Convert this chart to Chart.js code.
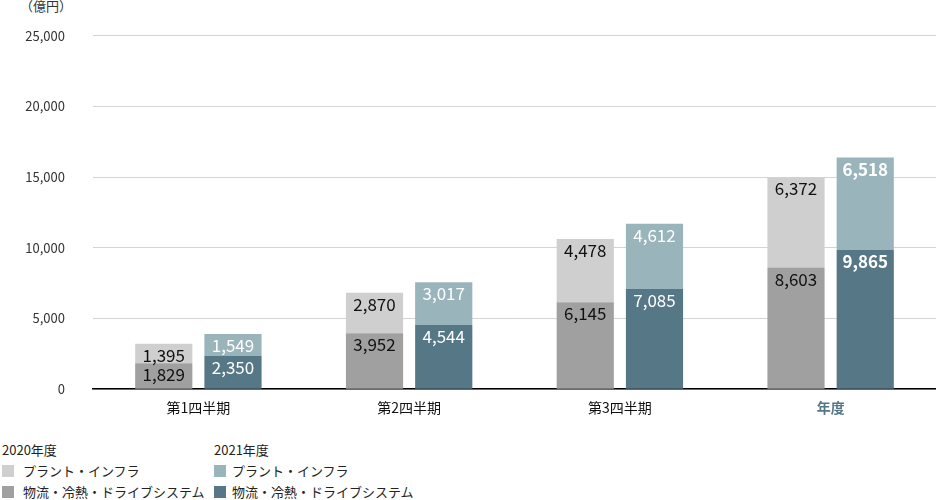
<!DOCTYPE html><html><head><meta charset="utf-8">
<script src="https://cdn.jsdelivr.net/npm/chart.js@4"></script>
<style>body{margin:0;width:936px;height:500px;font-family:"Noto Sans CJK JP";background:#fff;position:relative;overflow:hidden}
#w{position:absolute;left:0;top:0;width:936px;height:425px}
.lg{position:absolute;font-size:13px;color:#222}.sw{display:inline-block;width:12px;height:12px;margin-right:6px;vertical-align:-1px}
</style></head><body>
<div style="position:absolute;left:20px;top:-4px;font-size:13px;color:#333">（億円）</div>
<div id="w"><canvas id="c"></canvas></div>
<div class="lg" style="left:2px;top:440px">2020年度</div>
<div class="lg" style="left:2px;top:461px"><span class="sw" style="background:#cfcfcf"></span> プラント・インフラ</div>
<div class="lg" style="left:2px;top:482px"><span class="sw" style="background:#a0a0a0"></span> 物流・冷熱・ドライブシステム</div>
<div class="lg" style="left:214px;top:440px">2021年度</div>
<div class="lg" style="left:214px;top:461px"><span class="sw" style="background:#9ab4bc"></span>プラント・インフラ</div>
<div class="lg" style="left:214px;top:482px"><span class="sw" style="background:#557786"></span>物流・冷熱・ドライブシステム</div>
<script>
const categories=["第1四半期","第2四半期","第3四半期","年度"];
const logi2020=[1829,3952,6145,8603];
const plant2020=[1395,2870,4478,6372];
const logi2021=[2350,4544,7085,9865];
const plant2021=[1549,3017,4612,6518];
const yTicks=[0,5000,10000,15000,20000,25000];
const ds=(label,data,stack,bg,fc)=>({label,data,stack,backgroundColor:bg,fc,categoryPercentage:0.657,barPercentage:0.826});
const labels={id:'lbl',afterDatasetsDraw(ch){const x=ch.ctx;x.save();x.textAlign='center';x.textBaseline='top';
ch.data.datasets.forEach((d,i)=>{ch.getDatasetMeta(i).data.forEach((b,j)=>{const bold=j==3&&d.stack=='b';
x.font=(bold?'bold ':'')+'17px "Noto Sans CJK JP"';x.fillStyle=d.fc[j];x.fillText(d.data[j].toLocaleString('en-US'),b.x,b.y+3);});});x.restore();}};
new Chart(document.getElementById('c'),{type:'bar',data:{labels:categories,datasets:[
ds('2020 物流',logi2020,'a','#a0a0a0',['#111','#111','#111','#111']),
ds('2020 プラント',plant2020,'a','#cfcfcf',['#111','#111','#111','#111']),
ds('2021 物流',logi2021,'b','#557786',['#fff','#fff','#fff','#fff']),
ds('2021 プラント',plant2021,'b','#9ab4bc',['#fff','#fff','#fff','#fff'])]},
options:{responsive:true,maintainAspectRatio:false,animation:false,layout:{padding:{top:28,right:0,left:0,bottom:0}},
plugins:{legend:{display:false},tooltip:{enabled:false}},
scales:{x:{stacked:true,grid:{display:false},border:{color:'#000',width:1.5},
ticks:{font:c=>({size:14,weight:c.index==3?'bold':'normal',family:'"Noto Sans CJK JP"'}),color:c=>c.index==3?'#557786':'#111',padding:2}},
y:{stacked:true,min:0,max:25000,afterFit(s){s.width=93},afterBuildTicks(s){s.ticks=yTicks.map(v=>({value:v}))},
grid:{color:'#d4d4d4',drawTicks:false},border:{display:false},
ticks:{padding:28,color:'#333',font:{size:13,family:'"Noto Sans CJK JP"'},callback:v=>v.toLocaleString('en-US')}}}},
plugins:[labels]});
</script></body></html>
